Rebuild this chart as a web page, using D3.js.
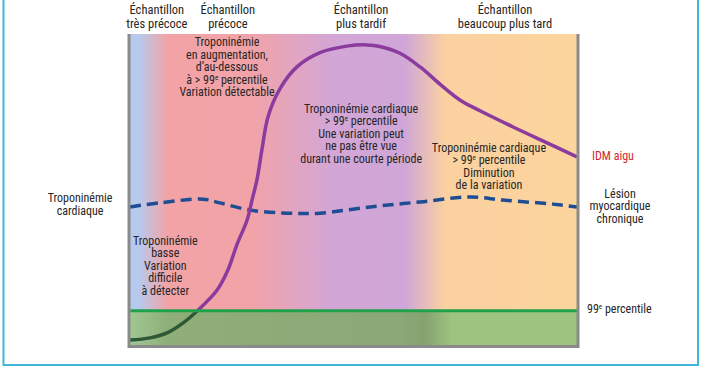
<!DOCTYPE html>
<html><head><meta charset="utf-8">
<script src="https://cdn.jsdelivr.net/npm/d3@7"></script>
<style>
html,body{margin:0;padding:0;background:#fff;}
svg{display:block;}
text{font-family:"Roboto Condensed","Liberation Sans Narrow","DejaVu Sans Condensed","Open Sans Condensed",Roboto,sans-serif;fill:#262626;}
</style></head>
<body>
<svg id="c" width="702" height="370"></svg>
<script>
// ---- data ----
const timeDomain = [0, 100];
const levelDomain = [0, 100];
const percentile99 = 11;
const idmTimes  = [0, 4.5, 8.3, 11.9, 15.0, 19.5, 21.9, 23.9, 26.2, 27.3, 28.4, 29.5, 30.9, 33.6, 37.4, 42.5, 48.5, 53.0, 55.9, 60.4, 64.9, 69.4, 73.8, 78.3, 85.7, 93.3, 100];
const idmValues = [1.6, 2.3, 3.9, 7.1, 10.9, 17.7, 24.1, 32.2, 40.2, 46.6, 53.1, 62.7, 73.5, 82.5, 89.5, 94.0, 96.1, 96.5, 96.0, 93.8, 89.4, 83.8, 78.8, 75.3, 70.1, 65.0, 60.5];
const chronicTimes  = [0, 6.7, 16.3, 20.1, 26.8, 35.1, 42.5, 53.7, 64.9, 76.1, 83.4, 94.6, 100];
const chronicValues = [44.4, 45.7, 46.9, 45.7, 43.4, 42.4, 42.4, 44.4, 46.0, 47.6, 46.6, 45.3, 44.4];
const sampleLabels = [["Échantillon","très précoce"],["Échantillon","précoce"],["Échantillon","plus tardif"],["Échantillon","beaucoup plus tard"]];
const sampleTimes = [6.0, 21.9, 51.7, 83.9];
const noteTexts = [
  ["Troponinémie","en augmentation,","d’au-dessous","à > 99|e| percentile","Variation détectable"],
  ["Troponinémie cardiaque","> 99|e| percentile","Une variation peut","ne pas être vue","durant une courte période"],
  ["Troponinémie cardiaque","> 99|e| percentile","Diminution","de la variation"],
  ["Troponinémie","basse","Variation","difficile","à détecter"]
];
const noteTimes = [21.7, 51.7, 80.3, 7.9];
const noteLevels = [96.1, 74.7, 62.2, 32.2];
const yAxisLabel = ["Troponinémie","cardiaque"];
const idmLabel = "IDM aigu";
const chronicLabel = ["Lésion","myocardique","chronique"];
const percentileLabel = "99|e| percentile";

// ---- layout ----
const svg = d3.select("#c");
const L = 130, R = 577, T = 34, B = 345;
const x = d3.scaleLinear().domain(timeDomain).range([L, R]);
const y = d3.scaleLinear().domain(levelDomain).range([B, T]);

const defs = svg.append("defs");
function hGrad(id, stops){
  const g = defs.append("linearGradient").attr("id", id)
    .attr("gradientUnits","userSpaceOnUse").attr("x1", L).attr("x2", R).attr("y1",0).attr("y2",0);
  stops.forEach(s => g.append("stop").attr("offset", s[0]).attr("stop-color", s[1]));
}
hGrad("bg", [[0.02,"#b7c9ec"],[0.085,"#f3a3a6"],[0.27,"#f2a3a8"],[0.45,"#d3a6d6"],[0.615,"#cfa6d7"],[0.705,"#fbd1a0"],[1,"#fcd49d"]]);
hGrad("gb", [[0.0,"#a0c794"],[0.085,"#8fae78"],[0.6,"#8ba877"],[0.66,"#86a270"],[0.72,"#9cc480"],[1,"#9cc480"]]);

// outer frame
svg.append("rect").attr("x",3.5).attr("y",-10).attr("width",694.5).attr("height",375)
  .attr("fill","none").attr("stroke","#41b6d6").attr("stroke-width",2);

// background
svg.append("rect").attr("x",L).attr("y",T).attr("width",R-L).attr("height",B-T).attr("fill","url(#bg)");
svg.append("rect").attr("x",L).attr("y",y(percentile99)).attr("width",R-L).attr("height",B-y(percentile99)).attr("fill","url(#gb)");

// clip paths
defs.append("clipPath").attr("id","above").append("rect").attr("x",L).attr("y",0).attr("width",R-L).attr("height",y(percentile99));
defs.append("clipPath").attr("id","below").append("rect").attr("x",L).attr("y",y(percentile99)).attr("width",R-L).attr("height",B-y(percentile99));

const line = d3.line().x(d=>x(d[0])).y(d=>y(d[1])).curve(d3.curveCatmullRom.alpha(0.5));
const idm = idmTimes.map((t,i)=>[t, idmValues[i]]);
const chronic = chronicTimes.map((t,i)=>[t, chronicValues[i]]);

// dashed chronic
svg.append("path").attr("d", line(chronic)).attr("fill","none").attr("stroke","#1e4d93")
  .attr("stroke-width",3.5).attr("stroke-dasharray","11,6");

// IDM curve
svg.append("path").attr("d", line(idm)).attr("fill","none").attr("stroke","#8b3b9d")
  .attr("stroke-width",3.5).attr("clip-path","url(#above)");
svg.append("path").attr("d", line(idm)).attr("fill","none").attr("stroke","#2f5836")
  .attr("stroke-width",3.5).attr("clip-path","url(#below)");

// 99th percentile line
svg.append("line").attr("x1",L-1).attr("x2",R+1).attr("y1",y(percentile99)).attr("y2",y(percentile99))
  .attr("stroke","#20a24a").attr("stroke-width",3);

// frame (left, bottom, right)
svg.append("path").attr("d",`M${L-1},${T}V${B+1.5}H${R+1}V${T}`).attr("fill","none")
  .attr("stroke","#8a8a8a").attr("stroke-width",3);

// text helper: "|e|" marks superscript
function addLine(textSel, str){
  const parts = str.split("|");
  parts.forEach((p,i)=>{
    if(!p) return;
    const ts = textSel.append("tspan").text(p);
    if(i%2===1){ ts.attr("font-size","7px").attr("dy","-4"); }
    else if(i>0){ ts.attr("dy","4"); }
  });
}
function block(lines, cx, by, lh, opts={}){
  lines.forEach((ln,i)=>{
    const t = svg.append("text").attr("x",cx).attr("y",by+i*lh)
      .attr("text-anchor", opts.anchor||"middle").attr("font-size", opts.size||"12px");
    if(opts.fill) t.style("fill", opts.fill);
    addLine(t, ln);
  });
}

sampleLabels.forEach((lab,i)=> block(lab, x(sampleTimes[i]), 13.5, 14, {size:"12.5px"}));
noteTexts.forEach((lines,i)=> block(lines, x(noteTimes[i]), y(noteLevels[i]), 12.5));
block(yAxisLabel, 80, 202, 12.6);
block([idmLabel], 592, 160, 12.5, {anchor:"start", fill:"#d21f2e"});
block(chronicLabel, 620, 197.5, 12.5);
block([percentileLabel], 587, 312.5, 12.5, {anchor:"start"});
</script>
</body></html>
